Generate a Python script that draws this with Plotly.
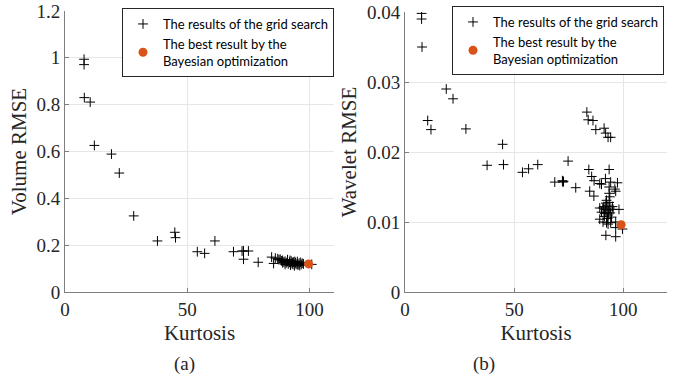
import plotly.graph_objects as go

# ---------------- data ----------------
vol_kurt = [7.8, 7.8, 7.9, 10.3, 12.0, 19.0, 22.2, 28.1, 37.8, 44.9, 45.2, 54.1, 57.1,
            61.3, 68.9, 72.4, 73.0, 75.0, 73.0, 79.0, 84.5, 85.3, 86.0, 87.0, 87.5, 88.0,
            88.5, 89.0, 89.5, 90.0, 90.5, 91.0, 91.3, 91.8, 92.2, 92.5, 92.8, 93.2, 93.5,
            93.8, 94.2, 94.5, 95.0, 95.3, 95.7, 96.2, 96.6, 97.0, 97.5, 89.0, 90.0, 91.0,
            92.0, 93.0, 94.0, 95.0, 96.0, 100.9]
vol_rmse = [0.994, 0.971, 0.830, 0.811, 0.626, 0.589, 0.508, 0.325, 0.218, 0.255, 0.232,
            0.172, 0.165, 0.218, 0.172, 0.175, 0.175, 0.175, 0.140, 0.127, 0.149, 0.122,
            0.145, 0.142, 0.138, 0.140, 0.133, 0.135, 0.128, 0.131, 0.125, 0.130, 0.120,
            0.127, 0.115, 0.132, 0.122, 0.118, 0.128, 0.112, 0.125, 0.118, 0.130, 0.115,
            0.122, 0.127, 0.118, 0.123, 0.120, 0.125, 0.118, 0.138, 0.135, 0.126, 0.130,
            0.120, 0.113, 0.118]
vol_best_kurt = [99.6]
vol_best_rmse = [0.120]

wav_kurt = [7.6, 7.6, 7.8, 18.9, 22.0, 10.4, 11.9, 27.9, 44.7, 37.6, 45.1, 53.8, 56.6,
            60.8, 74.7, 68.6, 72.1, 72.3, 72.6, 78.2,
            83.3, 83.9, 86.1, 87.4, 91.2, 91.9, 93.0, 94.2,
            84.2, 93.5, 85.5, 86.6, 89.2, 90.0, 91.8, 94.2, 97.3, 93.5, 96.1, 96.5, 84.6,
            86.5, 93.5, 92.3, 89.2, 90.7, 92.5, 93.8, 95.3, 98.0, 90.0, 91.5, 93.0, 89.2,
            90.7, 92.3, 94.2, 96.5, 93.0, 96.5, 99.6, 92.0, 96.5,
            91.0, 91.7, 92.5, 93.3, 94.0, 92.0, 93.5, 91.3, 94.6, 92.8, 93.8, 95.0]
wav_rmse = [0.0398, 0.0390, 0.0350, 0.0290, 0.0276, 0.0245, 0.0232, 0.0233, 0.0211,
            0.0181, 0.0182, 0.0171, 0.0176, 0.0182, 0.0187, 0.0157, 0.0159, 0.0157,
            0.0158, 0.0149,
            0.0257, 0.0246, 0.0245, 0.0232, 0.0234, 0.0227, 0.0221, 0.0221,
            0.0175, 0.0175, 0.0165, 0.0159, 0.0155, 0.0154, 0.0162, 0.0157, 0.0156,
            0.0150, 0.0147, 0.0144, 0.0144, 0.0137, 0.0141, 0.0131, 0.0120, 0.0120,
            0.0124, 0.0120, 0.0118, 0.0118, 0.0114, 0.0112, 0.0110, 0.0104, 0.0100,
            0.0099, 0.0099, 0.0100, 0.0097, 0.0092, 0.0090, 0.0081, 0.0079,
            0.0122, 0.0118, 0.0113, 0.0116, 0.0113, 0.0127, 0.0128, 0.0108, 0.0107,
            0.0105, 0.0136, 0.0122]
wav_best_kurt = [99.0]
wav_best_rmse = [0.0096]

x_ticks = [0, 50, 100]
x_labels = ["0", "50", "100"]
vol_ticks = [0, 0.2, 0.4, 0.6, 0.8, 1.0, 1.2]
vol_labels = ["0", "0.2", "0.4", "0.6", "0.8", "1", "1.2"]
wav_ticks = [0, 0.01, 0.02, 0.03, 0.04]
wav_labels = ["0", "0.01", "0.02", "0.03", "0.04"]

grid_name = "The results of the grid search"
best_name = "The best result by the<br>Bayesian optimization"

# ---------------- styling ----------------
W, H = 686, 384
SERIF = '"Liberation Serif", "Times New Roman", serif'
SANS = 'Lato, "Liberation Sans", sans-serif'
ORANGE = "#D95319"
AX = "#7f7f7f"
GRID = "#e6e6e6"
TXT = "#262626"

fig = go.Figure()

cross = dict(symbol="cross-thin", size=7, color="black",
             line=dict(color="black", width=1))
dot = dict(symbol="circle", size=9, color=ORANGE, line=dict(width=0))

fig.add_trace(go.Scatter(x=vol_kurt, y=vol_rmse, mode="markers", marker=cross,
                         name=grid_name, xaxis="x", yaxis="y", legend="legend"))
fig.add_trace(go.Scatter(x=vol_best_kurt, y=vol_best_rmse, mode="markers", marker=dot,
                         name=best_name, xaxis="x", yaxis="y", legend="legend"))
fig.add_trace(go.Scatter(x=wav_kurt, y=wav_rmse, mode="markers", marker=cross,
                         name=grid_name, xaxis="x2", yaxis="y2", legend="legend2"))
fig.add_trace(go.Scatter(x=wav_best_kurt, y=wav_best_rmse, mode="markers", marker=dot,
                         name=best_name, xaxis="x2", yaxis="y2", legend="legend2"))

def px_x(p):
    return p / W

def px_y(p):
    return 1 - p / H

common = dict(showline=True, linecolor=AX, linewidth=1, mirror=False,
              showgrid=True, gridcolor=GRID, gridwidth=1, zeroline=False,
              ticks="inside", ticklen=4, tickcolor=AX, automargin=False,
              tickfont=dict(family=SERIF, size=19, color=TXT))

title_font = dict(family=SERIF, size=21, color=TXT)

fig.update_layout(
    width=W, height=H,
    margin=dict(l=0, r=0, t=0, b=0),
    paper_bgcolor="white", plot_bgcolor="white",
    font=dict(family=SERIF, color=TXT),
    showlegend=True,
    xaxis=dict(domain=[px_x(65), px_x(334)], range=[0, 110], anchor="y",
               tickvals=x_ticks, ticktext=x_labels,
               title=dict(text="Kurtosis", font=title_font, standoff=6), **common),
    yaxis=dict(domain=[px_y(292), px_y(11)], range=[0, 1.2], anchor="x",
               tickvals=vol_ticks, ticktext=vol_labels,
               title=dict(text="Volume RMSE", font=title_font, standoff=4), **common),
    xaxis2=dict(domain=[px_x(405), px_x(667)], range=[0, 120], anchor="y2",
                tickvals=x_ticks, ticktext=x_labels,
                title=dict(text="Kurtosis", font=title_font, standoff=6), **common),
    yaxis2=dict(domain=[px_y(292), px_y(12)], range=[0, 0.04], anchor="x2",
                tickvals=wav_ticks, ticktext=wav_labels,
                title=dict(text="Wavelet RMSE", font=title_font, standoff=4), **common),
    legend=dict(x=px_x(122), y=px_y(8), xanchor="left", yanchor="top",
                bgcolor="white", bordercolor=TXT, borderwidth=1,
                font=dict(family=SANS, size=13, color="black"),
                tracegroupgap=0, itemwidth=30),
    legend2=dict(x=px_x(452), y=px_y(6), xanchor="left", yanchor="top",
                 bgcolor="white", bordercolor=TXT, borderwidth=1,
                 font=dict(family=SANS, size=13, color="black"),
                 tracegroupgap=0, itemwidth=30),
    annotations=[
        dict(text="(a)", x=px_x(172), y=px_y(364), xref="paper", yref="paper",
             yanchor="middle", showarrow=False, font=dict(family=SERIF, size=19, color=TXT)),
        dict(text="(b)", x=px_x(497), y=px_y(364), xref="paper", yref="paper",
             yanchor="middle", showarrow=False, font=dict(family=SERIF, size=19, color=TXT)),
    ],
)

fig.write_html("out.html",
               config={"displayModeBar": False},
               post_script="document.body.style.margin='0';document.body.style.overflow='hidden';")
